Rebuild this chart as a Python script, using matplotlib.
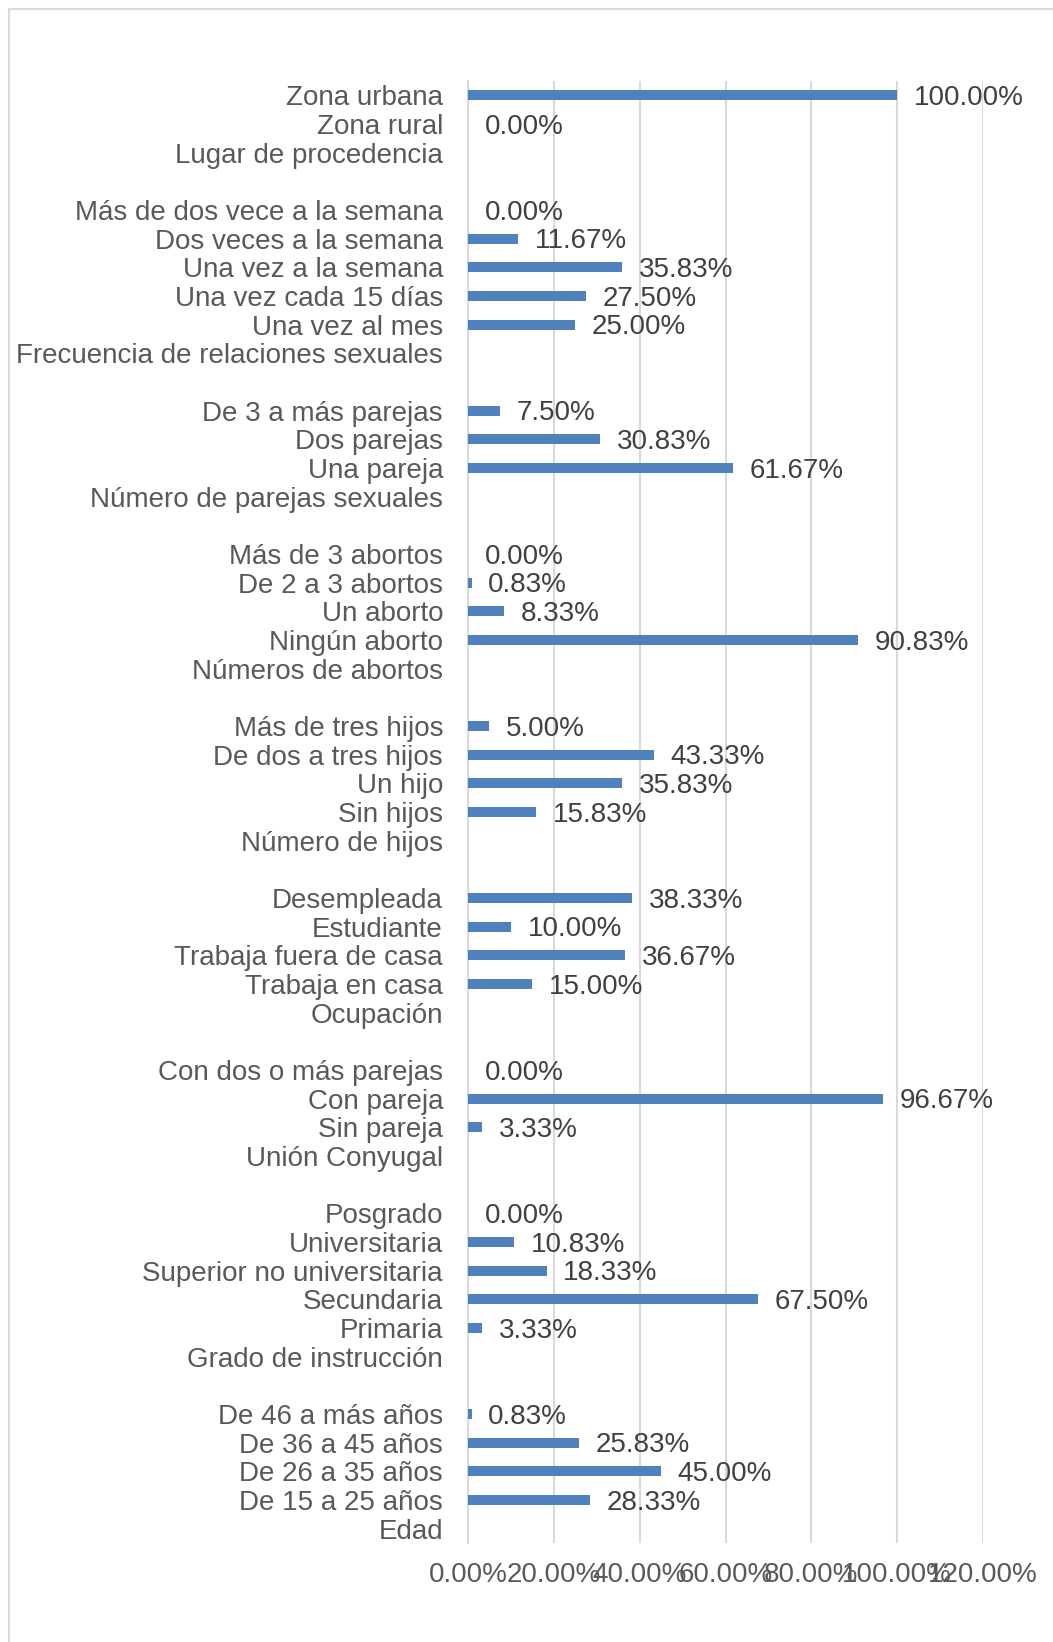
import matplotlib
matplotlib.use("Agg")
import matplotlib.pyplot as plt
from matplotlib.lines import Line2D
import numpy as np

plt.rcParams['font.family'] = ['Liberation Sans', 'DejaVu Sans']

# Groups listed top to bottom: (header, categories, values in %)
procedencia_cats = ["Zona urbana", "Zona rural"]
procedencia_vals = [100.00, 0.00]

frecuencia_cats = ["Más de dos vece a la semana", "Dos veces a la semana",
                   "Una vez a la semana", "Una vez cada 15 días", "Una vez al mes"]
frecuencia_vals = [0.00, 11.67, 35.83, 27.50, 25.00]

parejas_cats = ["De 3 a más parejas", "Dos parejas", "Una pareja"]
parejas_vals = [7.50, 30.83, 61.67]

abortos_cats = ["Más de 3 abortos", "De 2 a 3 abortos", "Un aborto", "Ningún aborto"]
abortos_vals = [0.00, 0.83, 8.33, 90.83]

hijos_cats = ["Más de tres hijos", "De dos a tres hijos", "Un hijo", "Sin hijos"]
hijos_vals = [5.00, 43.33, 35.83, 15.83]

ocupacion_cats = ["Desempleada", "Estudiante", "Trabaja fuera de casa", "Trabaja en casa"]
ocupacion_vals = [38.33, 10.00, 36.67, 15.00]

union_cats = ["Con dos o más parejas", "Con pareja", "Sin pareja"]
union_vals = [0.00, 96.67, 3.33]

instruccion_cats = ["Posgrado", "Universitaria", "Superior no universitaria",
                    "Secundaria", "Primaria"]
instruccion_vals = [0.00, 10.83, 18.33, 67.50, 3.33]

edad_cats = ["De 46 a más años", "De 36 a 45 años", "De 26 a 35 años", "De 15 a 25 años"]
edad_vals = [0.83, 25.83, 45.00, 28.33]

headers = ["Lugar de procedencia", "Frecuencia de relaciones sexuales",
           "Número de parejas sexuales", "Números de abortos", "Número de hijos",
           "Ocupación", "Unión Conyugal", "Grado de instrucción", "Edad"]

x_ticks = [0, 20, 40, 60, 80, 100, 120]

groups = [
    (procedencia_cats, procedencia_vals),
    (frecuencia_cats, frecuencia_vals),
    (parejas_cats, parejas_vals),
    (abortos_cats, abortos_vals),
    (hijos_cats, hijos_vals),
    (ocupacion_cats, ocupacion_vals),
    (union_cats, union_vals),
    (instruccion_cats, instruccion_vals),
    (edad_cats, edad_vals),
]

labels = []
values = []
for i, ((cats, vals), hdr) in enumerate(zip(groups, headers)):
    labels += cats
    values += vals
    labels.append(hdr)
    values.append(None)
    if i < len(groups) - 1:
        labels.append("")
        values.append(None)

n = len(labels)
ypos = np.arange(n)

W, H = 1053, 1642
fig = plt.figure(figsize=(W / 100, H / 100), dpi=100)
ax = fig.add_axes([468 / W, 1 - 1543 / H, (983 - 468) / W, (1543 - 81) / H])

bar_color = "#4F81BD"
grid_color = "#D9D9D9"
text_color = "#595959"
label_color = "#404040"
fs = 20

for y, v in zip(ypos, values):
    if v is None:
        continue
    if v > 0:
        ax.barh(y, v, height=0.35, color=bar_color, zorder=3)
    ax.annotate(f"{v:.2f}%", xy=(v, y), xytext=(12, -2), textcoords="offset points",
                va="center", ha="left", fontsize=fs, color=label_color, zorder=4)

ax.set_ylim(n - 0.5, -0.5)
ax.set_xlim(0, 120)
ax.set_yticks(ypos)
ax.set_yticklabels(labels, fontsize=fs, color=text_color)
ax.set_xticks(x_ticks)
ax.set_xticklabels([f"{t:.2f}%" for t in x_ticks], fontsize=fs, color=text_color)
ax.tick_params(axis="y", length=0, pad=18)
ax.tick_params(axis="x", length=0, pad=14)
ax.xaxis.grid(True, color=grid_color, linewidth=1.5, zorder=0)
ax.set_axisbelow(True)
for s in ["top", "right", "bottom"]:
    ax.spines[s].set_visible(False)
ax.spines["left"].set_color(grid_color)
ax.spines["left"].set_linewidth(1.5)

# Chart border (top and left visible)
fig.add_artist(Line2D([9 / W, 9 / W], [0, 1 - 9 / H], transform=fig.transFigure,
                      color=grid_color, linewidth=1.5))
fig.add_artist(Line2D([9 / W, 1], [1 - 9 / H, 1 - 9 / H], transform=fig.transFigure,
                      color=grid_color, linewidth=1.5))

fig.savefig("out.png", dpi=100, facecolor="white")
